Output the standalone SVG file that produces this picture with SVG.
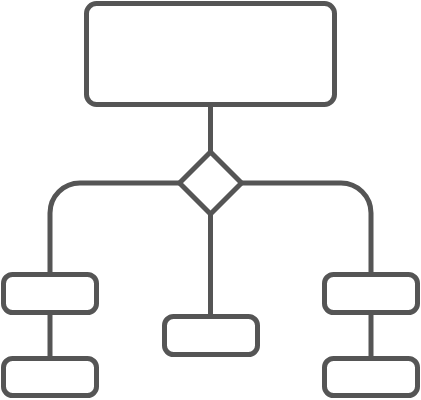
<svg xmlns="http://www.w3.org/2000/svg" width="421" height="400" viewBox="0 0 421 400">
<style>
.s{fill:#fff;stroke:#555;stroke-width:5;stroke-linejoin:round}
.c{fill:none;stroke:#555;stroke-width:5}
</style>
<rect width="421" height="400" fill="#fff"/>
<g id="connectors">
<path class="c" d="M210.5 104.5V152"/>
<path class="c" d="M181 183H80A30 30 0 0 0 50 213V274"/>
<path class="c" d="M240 183H341A30 30 0 0 1 371 213V274"/>
<path class="c" d="M210.5 214V316"/>
<path class="c" d="M50 312V358"/>
<path class="c" d="M371 312V358"/>
</g>
<g id="top"><rect class="s" x="86.5" y="3.5" width="248" height="101" rx="10"/></g>
<g id="decision"><path class="s" d="M210.5 152L241.5 183L210.5 214L179.5 183Z"/></g>
<g id="left1"><rect class="s" x="3.5" y="274.5" width="93" height="38" rx="9"/></g>
<g id="left2"><rect class="s" x="3.5" y="358.5" width="93" height="37" rx="9"/></g>
<g id="mid"><rect class="s" x="164.5" y="316.5" width="93" height="38" rx="9"/></g>
<g id="right1"><rect class="s" x="324.5" y="274.5" width="93" height="38" rx="9"/></g>
<g id="right2"><rect class="s" x="324.5" y="358.5" width="93" height="37" rx="9"/></g>
</svg>
